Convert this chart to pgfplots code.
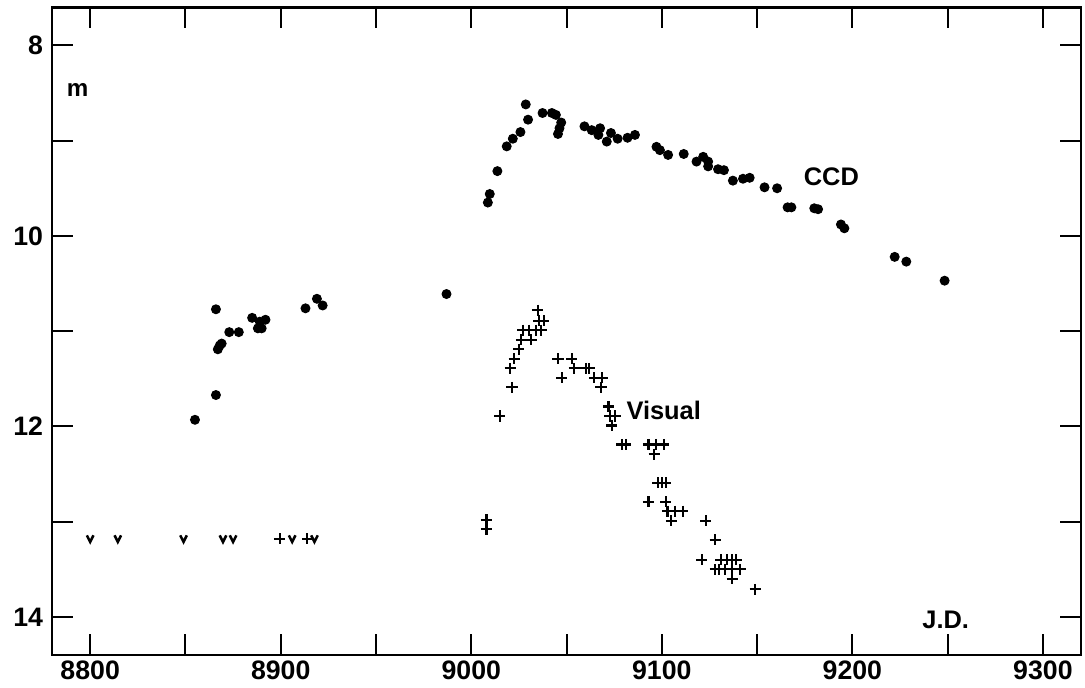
\documentclass[border=0pt]{standalone}
\usepackage{fontspec}
\setmainfont{Liberation Sans}
\usepackage{pgfplots}
\pgfplotsset{compat=1.18}

% upper limit mark
\pgfdeclareplotmark{vee}{%
  \pgfpathmoveto{\pgfqpoint{-1.3pt}{1.4pt}}%
  \pgfpathlineto{\pgfqpoint{0pt}{-1.2pt}}%
  \pgfpathlineto{\pgfqpoint{1.3pt}{1.4pt}}%
  \pgfusepathqstroke}

\begin{document}
\begin{tikzpicture}
\begin{axis}[
    name=ax,
    scale only axis,
    width=14.23cm,
    height=8.96cm,
    xmin=8780, xmax=9320,
    ymin=7.6, ymax=14.4,
    y dir=reverse,
    xtick={8800,8900,...,9300},
    minor xtick={8850,8950,...,9250},
    ytick={8,10,12,14},
    minor ytick={9,11,13},
    tick pos=both,
    xticklabel pos=lower,
    yticklabel pos=left,
    tick align=inside,
    major tick length=0.29cm,
    minor tick length=0.29cm,
    every tick/.style={black, line width=0.8pt},
    axis line style={line width=1pt},
    /pgf/number format/assume math mode=true,
    /pgf/number format/1000 sep={},
    tick label style={font=\bfseries\fontsize{10.5}{12}\selectfont},
    xticklabel style={inner sep=2pt},
    clip=false,
]
% CCD
\addplot[only marks, mark=*, mark size=1.75pt, black] coordinates {
(8855,11.93) (8866,11.67) (8866,10.77) (8868,11.15) (8867,11.19) (8869,11.13)
(8873,11.01) (8878,11.01) (8885,10.86) (8889,10.90) (8892,10.88) (8888,10.97)
(8890,10.97) (8913,10.76) (8919,10.66) (8922,10.73) (8987,10.61)
(9008.7,9.65) (9009.7,9.56) (9013.7,9.32) (9018.6,9.06) (9021.8,8.98)
(9025.8,8.91) (9028.6,8.62) (9029.8,8.78) (9037.4,8.71) (9042.3,8.71)
(9044.4,8.73) (9047.2,8.81) (9046.3,8.87) (9045.5,8.93) (9059.4,8.85)
(9063.2,8.89) (9067.6,8.87) (9066.7,8.94) (9071.1,9.01) (9073.3,8.92)
(9076.8,8.98) (9082,8.97) (9085.9,8.94) (9097.2,9.065) (9099,9.10)
(9103.3,9.15) (9111.5,9.14) (9118.2,9.22) (9121.7,9.17) (9124.3,9.22)
(9124.3,9.27) (9129.5,9.30) (9132.6,9.31) (9137.3,9.42) (9142.6,9.40)
(9146.1,9.39) (9153.9,9.49) (9160.5,9.50) (9166,9.70) (9168,9.70)
(9180,9.71) (9182,9.72) (9194,9.88) (9195.8,9.92) (9222.2,10.22)
(9228.3,10.27) (9248.4,10.47)
};
% Visual
\addplot[only marks, mark=+, mark size=2.2pt, black, line width=0.85pt] coordinates {
(8899.4,13.18) (8914,13.18) (9008,12.98) (9008,13.08) (9015,11.89)
(9021.4,11.59) (9020.5,11.39) (9022.6,11.29) (9024.9,11.19) (9026.3,11.09)
(9031.5,11.09) (9027,10.99) (9030.5,10.99) (9034,10.99) (9036.8,10.99)
(9035.4,10.89) (9038,10.89) (9034.8,10.78) (9045.5,11.29) (9052.7,11.29)
(9047.5,11.49) (9054,11.39) (9060,11.39) (9062,11.39) (9064.6,11.49)
(9068.8,11.49) (9068.1,11.59) (9072,11.79) (9072.8,11.89) (9075.4,11.89)
(9073.7,11.99) (9079,12.19) (9081,12.19) (9093,12.19) (9097,12.19)
(9101,12.19) (9096,12.29) (9098,12.59) (9100,12.59) (9102,12.59)
(9093,12.79) (9102,12.79) (9103,12.89) (9107,12.89) (9111,12.89)
(9105,12.99) (9123,12.99) (9128,13.19) (9121,13.40) (9131,13.40)
(9134,13.40) (9137,13.40) (9139,13.40) (9128,13.50) (9130,13.50)
(9133,13.50) (9137,13.50) (9141,13.50) (9137,13.60) (9149,13.71)
};
% upper limits
\addplot[only marks, mark=vee, black, line width=1pt] coordinates {
(8800,13.18) (8814.5,13.18) (8849,13.18) (8869.7,13.18) (8875,13.18)
(8906,13.18) (8917.7,13.18)
};
\node[font=\bfseries\fontsize{9.5}{11}\selectfont, anchor=west] at (axis cs:8783,8.47) {m};
\node[font=\bfseries\fontsize{10}{12}\selectfont] at (axis cs:9189,9.38) {CCD};
\node[font=\bfseries\fontsize{10}{12}\selectfont] at (axis cs:9101,11.83) {Visual};
\node[font=\bfseries\fontsize{10}{12}\selectfont] at (axis cs:9249,14.03) {J.D.};
\end{axis}
\pgfresetboundingbox
\path ([xshift=-0.72cm,yshift=-0.45cm]ax.south west) rectangle ([xshift=0.055cm,yshift=0.10cm]ax.north east);
\end{tikzpicture}
\end{document}
